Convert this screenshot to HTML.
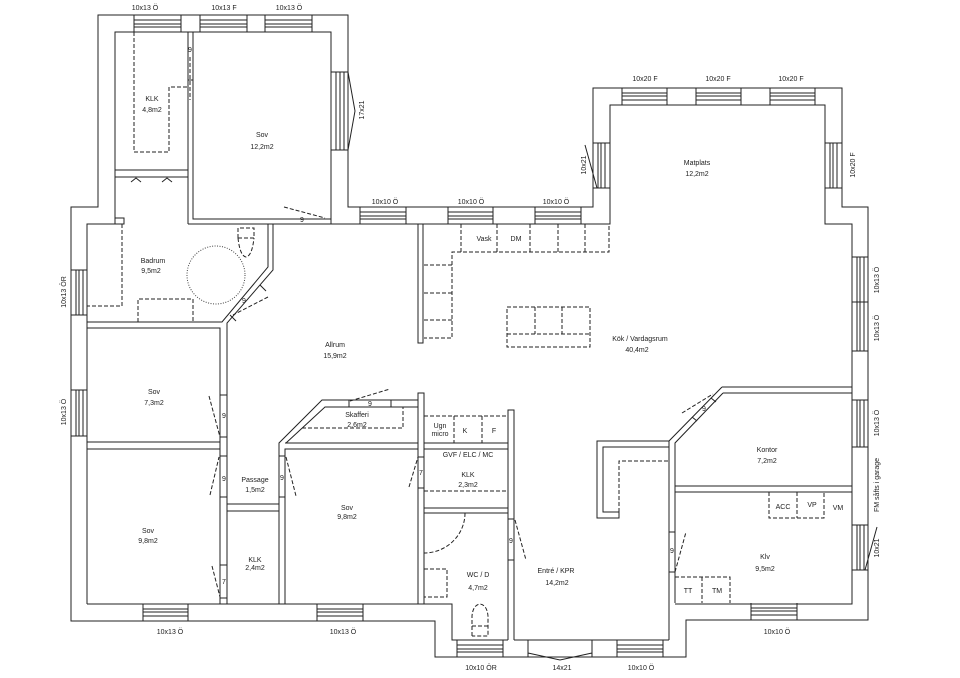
<!DOCTYPE html>
<html><head><meta charset="utf-8"><style>
html,body{margin:0;padding:0;background:#fff;}
svg{display:block;}
text{font-family:"Liberation Sans",sans-serif;font-size:7px;fill:#222;text-anchor:middle;}
</style></head><body>
<svg width="960" height="678" viewBox="0 0 960 678" xmlns="http://www.w3.org/2000/svg">
<rect width="960" height="678" fill="#fff"/>
<g fill="none" stroke="#222" stroke-width="1">
<!-- outer perimeter -->
<path d="M98,15 H348 V207 H593 V88 H842 V207 H868 V620 H686 V657 H435 V621 H71 V207 H98 Z"/>
<!-- inner lines -->
<path d="M115,224 V32 H331 V224"/>
<path d="M188,224 H610 V105 H825 V224 H852 V604 H675"/>
<path d="M87,604 V224 H124 V218 H115"/>
<path d="M87,604 H452 V640 H508"/>
<path d="M514,640 H669"/>
<!-- left wing partition -->
<path d="M188,32 V224 M193,32 V219 H331"/>
<path d="M188,80 H193"/>
<path d="M115,170 H188 M115,177 H188"/>
<!-- bathroom walls -->
<path d="M268,224 V267 L222,322 H87 M273,224 V270 L227,323 V604"/>
<path d="M87,328 H220 V604"/>
<path d="M260,285 L266,291 M230,315 L236,321"/>
<!-- sov 7.3 / 9.8 -->
<path d="M87,442 H220 M87,449 H220"/>
<path d="M220,395 H227 M220,437 H227 M220,456 H227 M220,497 H227 M220,565 H227 M220,598 H227"/>
<!-- passage/klk -->
<path d="M227,504 H279 M227,511 H279"/>
<path d="M279,604 V443 L322,400 H418 M285,604 V449 H418 M286,443 L325,407 H418 M285,443 H418"/>
<path d="M279,456 H285 M279,497 H285 M349,400 V407 M391,400 V407"/>
<path d="M418,604 V393 H424 V604"/>
<path d="M418,457 H424 M418,488 H424"/>
<path d="M424,443 H508 M424,449 H508 M424,508 H508 M424,513 H508"/>
<path d="M508,640 V410 H514 V640"/>
<path d="M508,519 H514 M508,560 H514"/>
<!-- kitchen partition -->
<rect x="418" y="224" width="5" height="119"/>
<!-- kontor -->
<path d="M722,387 H852 M723,393 H852"/>
<path d="M722,387 L669,441 V640 M723,393 L675,443 V603"/>
<path d="M692,417 L697,421 M711,398 L716,402"/>
<path d="M675,486 H852 M675,492 H852"/>
<path d="M669,532 H675 M669,572 H675"/>
<!-- U element in entre -->
<path d="M669,441 H597 V518 H619 V512 H603 V447 H669"/>
<!-- windows horizontal -->
<path d="M134,15V32M181,15V32M134,20H181M134,24H181M134,27H181"/>
<path d="M200,15V32M247,15V32M200,20H247M200,24H247M200,27H247"/>
<path d="M265,15V32M312,15V32M265,20H312M265,24H312M265,27H312"/>
<path d="M143,604V621M188,604V621M143,609H188M143,612H188M143,616H188"/>
<path d="M317,604V621M363,604V621M317,609H363M317,612H363M317,616H363"/>
<path d="M360,207V224M406,207V224M360,212H406M360,216H406M360,219H406"/>
<path d="M448,207V224M493,207V224M448,212H493M448,216H493M448,219H493"/>
<path d="M535,207V224M581,207V224M535,212H581M535,216H581M535,219H581"/>
<path d="M622,88V105M667,88V105M622,93H667M622,96H667M622,100H667"/>
<path d="M696,88V105M741,88V105M696,93H741M696,96H741M696,100H741"/>
<path d="M770,88V105M815,88V105M770,93H815M770,96H815M770,100H815"/>
<path d="M457,640V657M503,640V657M457,645H503M457,649H503M457,652H503"/>
<path d="M617,640V657M663,640V657M617,645H663M617,649H663M617,652H663"/>
<path d="M751,603V620M797,603V620M751,608H797M751,611H797M751,615H797"/>
<path d="M528,640V657M592,640V657M528,653L560,660L592,653"/>
<!-- windows vertical -->
<path d="M331,72H348M331,150H348M336,72V150M340,72V150M344,72V150"/>
<path d="M348,72L355,111L348,150"/>
<path d="M593,143H610M593,188H610M598,143V188M601,143V188M605,143V188"/>
<path d="M825,143H842M825,188H842M830,143V188M833,143V188M837,143V188"/>
<path d="M852,257H868M852,302H868M857,257V302M860,257V302M864,257V302"/>
<path d="M852,351H868M857,302V351M860,302V351M864,302V351"/>
<path d="M852,400H868M852,447H868M857,400V447M860,400V447M864,400V447"/>
<path d="M852,525H868M852,570H868M857,525V570M860,525V570M864,525V570"/>
<path d="M71,270H87M71,315H87M76,270V315M79,270V315M83,270V315"/>
<path d="M71,390H87M71,436H87M76,390V436M79,390V436M83,390V436"/>
<path d="M585,145L597,188 M877,527L865,570"/>
</g>
<!-- dashed -->
<g fill="none" stroke="#222" stroke-width="1" stroke-dasharray="4,2">
<path d="M134,32 V152 H169 V87 H187"/>
<path d="M190,57 V100"/>
<path d="M122,224 V306 H87"/>
<path d="M138,322 V299 H193 V322"/>
<path d="M238,238 V228 H254 V238 H238 M238,238 Q240,256 246,257 Q252,256 254,238"/>
<path d="M268,297 L233,315"/>
<path d="M209,396 L220,437 M210,495 L219,457 M212,566 L220,597"/>
<path d="M286,457 L296,496 M409,487 L418,457 M350,401 L390,389 M284,207 L325,218"/>
<path d="M302,428 H403 V407"/>
<path d="M424,416 H508 M424,416 V443 M454,416 V443 M482,416 V443"/>
<path d="M424,491 H508"/>
<path d="M465,513 A41,40 0 0 1 424,553"/>
<path d="M424,569 H447 V597 H424"/>
<path d="M472,636 V616 Q473,605 480,604 Q487,605 488,616 V636 H472 M472,626 H488"/>
<path d="M515,520 L526,560"/>
<path d="M461,224 V252 H609 V224 M497,224 V252 M530,224 V252 M558,224 V252 M585,224 V252"/>
<path d="M461,252 H452 V338 H424 M424,265 H452 M424,293 H452 M424,320 H452"/>
<path d="M507,307 H590 V347 H507 Z M507,334 H590 M535,307 V334 M562,307 V334"/>
<path d="M619,512 V461 H669"/>
<path d="M682,413 L713,394 M675,572 L686,532"/>
<path d="M769,492 V518 H824 V492 M797,492 V518"/>
<path d="M675,577 H730 V603 M702,577 V603"/>
</g>
<circle cx="216" cy="275" r="29" fill="none" stroke="#444" stroke-width="1" stroke-dasharray="1,1.5"/>
<path d="M131,182 L136,178 L141,182 M162,182 L167,178 L172,182" fill="none" stroke="#222"/>
<!-- labels -->
<text x="145" y="10">10x13 Ö</text>
<text x="224" y="10">10x13 F</text>
<text x="289" y="10">10x13 Ö</text>
<text x="645" y="81">10x20 F</text>
<text x="718" y="81">10x20 F</text>
<text x="791" y="81">10x20 F</text>
<text x="385" y="204">10x10 Ö</text>
<text x="471" y="204">10x10 Ö</text>
<text x="556" y="204">10x10 Ö</text>
<text x="170" y="634">10x13 Ö</text>
<text x="343" y="634">10x13 Ö</text>
<text x="481" y="670">10x10 ÖR</text>
<text x="562" y="670">14x21</text>
<text x="641" y="670">10x10 Ö</text>
<text x="777" y="634">10x10 Ö</text>
<text transform="translate(364,110) rotate(-90)">17x21</text>
<text transform="translate(586,165) rotate(-90)">10x21</text>
<text transform="translate(855,165) rotate(-90)">10x20 F</text>
<text transform="translate(66,292) rotate(-90)">10x13 ÖR</text>
<text transform="translate(66,412) rotate(-90)">10x13 Ö</text>
<text transform="translate(879,280) rotate(-90)">10x13 Ö</text>
<text transform="translate(879,328) rotate(-90)">10x13 Ö</text>
<text transform="translate(879,423) rotate(-90)">10x13 Ö</text>
<text transform="translate(879,485) rotate(-90)">FM såfts i garage</text>
<text transform="translate(879,548) rotate(-90)">10x21</text>
<text x="152" y="101">KLK</text><text x="152" y="112">4,8m2</text>
<text x="262" y="137">Sov</text><text x="262" y="149">12,2m2</text>
<text x="153" y="263">Badrum</text><text x="151" y="273">9,5m2</text>
<text x="697" y="165">Matplats</text><text x="697" y="176">12,2m2</text>
<text x="484" y="241">Vask</text><text x="516" y="241">DM</text>
<text x="640" y="341">Kök / Vardagsrum</text><text x="637" y="352">40,4m2</text>
<text x="335" y="347">Allrum</text><text x="335" y="358">15,9m2</text>
<text x="154" y="394">Sov</text><text x="154" y="405">7,3m2</text>
<text x="148" y="533">Sov</text><text x="148" y="543">9,8m2</text>
<text x="255" y="482">Passage</text><text x="255" y="492">1,5m2</text>
<text x="255" y="562">KLK</text><text x="255" y="570">2,4m2</text>
<text x="347" y="510">Sov</text><text x="347" y="519">9,8m2</text>
<text x="357" y="417">Skafferi</text><text x="357" y="427">2,6m2</text>
<text x="370" y="406">9</text>
<text x="302" y="222">9</text>
<text x="190" y="52">9</text>
<text x="244" y="303">9</text>
<text x="224" y="418">9</text><text x="224" y="481">9</text><text x="224" y="584">7</text>
<text x="282" y="480">9</text><text x="421" y="475">7</text><text x="511" y="543">9</text>
<text x="672" y="553">9</text><text x="704" y="411">9</text>
<text x="440" y="428">Ugn</text><text x="440" y="436">micro</text>
<text x="465" y="433">K</text><text x="494" y="433">F</text>
<text x="468" y="457">GVF / ELC / MC</text>
<text x="468" y="477">KLK</text><text x="468" y="487">2,3m2</text>
<text x="478" y="577">WC / D</text><text x="478" y="590">4,7m2</text>
<text x="556" y="573">Entré / KPR</text><text x="557" y="585">14,2m2</text>
<text x="767" y="452">Kontor</text><text x="767" y="463">7,2m2</text>
<text x="783" y="509">ACC</text><text x="812" y="507">VP</text><text x="838" y="510">VM</text>
<text x="765" y="559">Klv</text><text x="765" y="571">9,5m2</text>
<text x="688" y="593">TT</text><text x="717" y="593">TM</text>
</svg>
</body></html>
